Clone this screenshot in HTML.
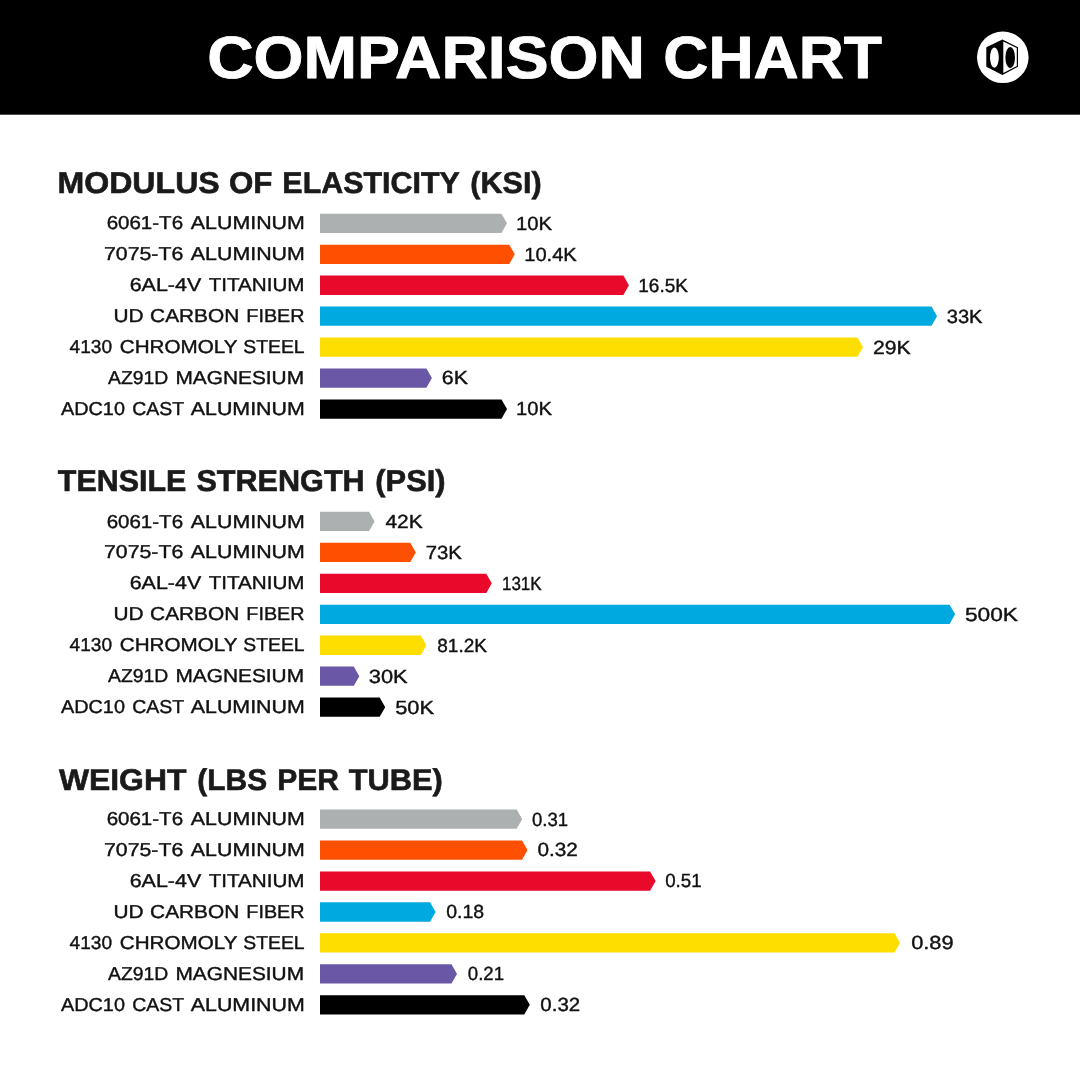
<!DOCTYPE html><html><head><meta charset="utf-8"><style>html,body{margin:0;padding:0;background:#fff;width:1080px;height:1080px;overflow:hidden}svg{display:block;will-change:transform;text-rendering:geometricPrecision}text{font-family:"Liberation Sans",sans-serif}</style></head><body>
<svg width="1080" height="1080" viewBox="0 0 1080 1080">
<rect x="0" y="0" width="1080" height="114.7" fill="#000"/>
<circle cx="1002.8" cy="57.3" r="25.8" fill="#fff"/>
<polygon points="1002.4,39.6 1018,47.2 1018,66.8 1002.4,75 986.3,66.8 986.3,47.2" fill="#000"/>
<polygon points="1003.3,41.6 1016.8,48.1 1016.8,65.9 1003.3,72.9" fill="#fff"/>
<ellipse cx="994.4" cy="57.6" rx="4.4" ry="10.2" fill="#fff"/>
<ellipse cx="1010.2" cy="57.6" rx="4.8" ry="10.6" fill="#000"/>
<polygon points="320.0,213.70 501.50,213.70 507.00,223.35 501.50,233.00 320.0,233.00" fill="#adb0b1"/>
<polygon points="320.0,244.65 509.30,244.65 514.80,254.30 509.30,263.95 320.0,263.95" fill="#fe5000"/>
<polygon points="320.0,275.60 623.40,275.60 628.90,285.25 623.40,294.90 320.0,294.90" fill="#e8092b"/>
<polygon points="320.0,306.55 931.50,306.55 937.00,316.20 931.50,325.85 320.0,325.85" fill="#00a9e0"/>
<polygon points="320.0,337.50 857.50,337.50 863.00,347.15 857.50,356.80 320.0,356.80" fill="#fedd00"/>
<polygon points="320.0,368.45 426.40,368.45 431.90,378.10 426.40,387.75 320.0,387.75" fill="#6a57a6"/>
<polygon points="320.0,399.40 501.50,399.40 507.00,409.05 501.50,418.70 320.0,418.70" fill="#000000"/>
<polygon points="320.0,511.80 369.10,511.80 374.60,521.45 369.10,531.10 320.0,531.10" fill="#adb0b1"/>
<polygon points="320.0,542.75 410.30,542.75 415.80,552.40 410.30,562.05 320.0,562.05" fill="#fe5000"/>
<polygon points="320.0,573.70 486.30,573.70 491.80,583.35 486.30,593.00 320.0,593.00" fill="#e8092b"/>
<polygon points="320.0,604.65 949.60,604.65 955.10,614.30 949.60,623.95 320.0,623.95" fill="#00a9e0"/>
<polygon points="320.0,635.60 420.90,635.60 426.40,645.25 420.90,654.90 320.0,654.90" fill="#fedd00"/>
<polygon points="320.0,666.55 353.80,666.55 359.30,676.20 353.80,685.85 320.0,685.85" fill="#6a57a6"/>
<polygon points="320.0,697.50 379.70,697.50 385.20,707.15 379.70,716.80 320.0,716.80" fill="#000000"/>
<polygon points="320.0,809.50 516.70,809.50 522.20,819.15 516.70,828.80 320.0,828.80" fill="#adb0b1"/>
<polygon points="320.0,840.45 522.00,840.45 527.50,850.10 522.00,859.75 320.0,859.75" fill="#fe5000"/>
<polygon points="320.0,871.40 650.10,871.40 655.60,881.05 650.10,890.70 320.0,890.70" fill="#e8092b"/>
<polygon points="320.0,902.35 430.10,902.35 435.60,912.00 430.10,921.65 320.0,921.65" fill="#00a9e0"/>
<polygon points="320.0,933.30 894.50,933.30 900.00,942.95 894.50,952.60 320.0,952.60" fill="#fedd00"/>
<polygon points="320.0,964.25 451.50,964.25 457.00,973.90 451.50,983.55 320.0,983.55" fill="#6a57a6"/>
<polygon points="320.0,995.20 524.30,995.20 529.80,1004.85 524.30,1014.50 320.0,1014.50" fill="#000000"/>
<text x="207.17" y="77.65" font-size="59.58" font-weight="bold" textLength="437.76" lengthAdjust="spacingAndGlyphs" fill="#fff" stroke="#fff" stroke-width="0.9" stroke-linejoin="round">COMPARISON</text>
<text x="663.32" y="77.65" font-size="59.58" font-weight="bold" textLength="218.70" lengthAdjust="spacingAndGlyphs" fill="#fff" stroke="#fff" stroke-width="0.9" stroke-linejoin="round">CHART</text>
<text x="57.45" y="193.30" font-size="30.14" font-weight="bold" textLength="162.32" lengthAdjust="spacingAndGlyphs" fill="#1a1a1a" stroke="#1a1a1a" stroke-width="0.6" stroke-linejoin="round">MODULUS</text>
<text x="229.03" y="193.30" font-size="30.14" font-weight="bold" textLength="43.48" lengthAdjust="spacingAndGlyphs" fill="#1a1a1a" stroke="#1a1a1a" stroke-width="0.6" stroke-linejoin="round">OF</text>
<text x="282.36" y="193.30" font-size="30.14" font-weight="bold" textLength="177.42" lengthAdjust="spacingAndGlyphs" fill="#1a1a1a" stroke="#1a1a1a" stroke-width="0.6" stroke-linejoin="round">ELASTICITY</text>
<text x="470.33" y="193.30" font-size="30.14" font-weight="bold" textLength="71.33" lengthAdjust="spacingAndGlyphs" fill="#1a1a1a" stroke="#1a1a1a" stroke-width="0.6" stroke-linejoin="round">(KSI)</text>
<text x="106.66" y="229.40" font-size="18.64" font-weight="normal" textLength="76.39" lengthAdjust="spacingAndGlyphs" fill="#111111" stroke="#111111" stroke-width="0.4" stroke-linejoin="round">6061-T6</text>
<text x="190.87" y="229.40" font-size="18.64" font-weight="normal" textLength="113.95" lengthAdjust="spacingAndGlyphs" fill="#111111" stroke="#111111" stroke-width="0.4" stroke-linejoin="round">ALUMINUM</text>
<text x="515.99" y="229.70" font-size="19.00" font-weight="normal" textLength="36.04" lengthAdjust="spacingAndGlyphs" fill="#111111" stroke="#111111" stroke-width="0.4" stroke-linejoin="round">10K</text>
<text x="104.00" y="260.35" font-size="18.64" font-weight="normal" textLength="79.28" lengthAdjust="spacingAndGlyphs" fill="#111111" stroke="#111111" stroke-width="0.4" stroke-linejoin="round">7075-T6</text>
<text x="190.87" y="260.35" font-size="18.64" font-weight="normal" textLength="113.95" lengthAdjust="spacingAndGlyphs" fill="#111111" stroke="#111111" stroke-width="0.4" stroke-linejoin="round">ALUMINUM</text>
<text x="524.23" y="260.65" font-size="19.00" font-weight="normal" textLength="52.58" lengthAdjust="spacingAndGlyphs" fill="#111111" stroke="#111111" stroke-width="0.4" stroke-linejoin="round">10.4K</text>
<text x="129.69" y="291.30" font-size="18.64" font-weight="normal" textLength="71.51" lengthAdjust="spacingAndGlyphs" fill="#111111" stroke="#111111" stroke-width="0.4" stroke-linejoin="round">6AL-4V</text>
<text x="208.66" y="291.30" font-size="18.64" font-weight="normal" textLength="95.91" lengthAdjust="spacingAndGlyphs" fill="#111111" stroke="#111111" stroke-width="0.4" stroke-linejoin="round">TITANIUM</text>
<text x="638.31" y="291.60" font-size="19.00" font-weight="normal" textLength="49.68" lengthAdjust="spacingAndGlyphs" fill="#111111" stroke="#111111" stroke-width="0.4" stroke-linejoin="round">16.5K</text>
<text x="113.41" y="322.25" font-size="18.64" font-weight="normal" textLength="30.08" lengthAdjust="spacingAndGlyphs" fill="#111111" stroke="#111111" stroke-width="0.4" stroke-linejoin="round">UD</text>
<text x="150.09" y="322.25" font-size="18.64" font-weight="normal" textLength="89.20" lengthAdjust="spacingAndGlyphs" fill="#111111" stroke="#111111" stroke-width="0.4" stroke-linejoin="round">CARBON</text>
<text x="246.39" y="322.25" font-size="18.64" font-weight="normal" textLength="58.18" lengthAdjust="spacingAndGlyphs" fill="#111111" stroke="#111111" stroke-width="0.4" stroke-linejoin="round">FIBER</text>
<text x="946.71" y="322.55" font-size="19.00" font-weight="normal" textLength="35.75" lengthAdjust="spacingAndGlyphs" fill="#111111" stroke="#111111" stroke-width="0.4" stroke-linejoin="round">33K</text>
<text x="69.53" y="353.20" font-size="18.64" font-weight="normal" textLength="42.51" lengthAdjust="spacingAndGlyphs" fill="#111111" stroke="#111111" stroke-width="0.4" stroke-linejoin="round">4130</text>
<text x="119.75" y="353.20" font-size="18.64" font-weight="normal" textLength="117.71" lengthAdjust="spacingAndGlyphs" fill="#111111" stroke="#111111" stroke-width="0.4" stroke-linejoin="round">CHROMOLY</text>
<text x="243.29" y="353.20" font-size="18.64" font-weight="normal" textLength="61.34" lengthAdjust="spacingAndGlyphs" fill="#111111" stroke="#111111" stroke-width="0.4" stroke-linejoin="round">STEEL</text>
<text x="872.96" y="353.50" font-size="19.00" font-weight="normal" textLength="37.69" lengthAdjust="spacingAndGlyphs" fill="#111111" stroke="#111111" stroke-width="0.4" stroke-linejoin="round">29K</text>
<text x="108.08" y="384.15" font-size="18.64" font-weight="normal" textLength="60.23" lengthAdjust="spacingAndGlyphs" fill="#111111" stroke="#111111" stroke-width="0.4" stroke-linejoin="round">AZ91D</text>
<text x="175.43" y="384.15" font-size="18.64" font-weight="normal" textLength="128.62" lengthAdjust="spacingAndGlyphs" fill="#111111" stroke="#111111" stroke-width="0.4" stroke-linejoin="round">MAGNESIUM</text>
<text x="441.86" y="384.45" font-size="19.00" font-weight="normal" textLength="26.12" lengthAdjust="spacingAndGlyphs" fill="#111111" stroke="#111111" stroke-width="0.4" stroke-linejoin="round">6K</text>
<text x="61.02" y="415.10" font-size="18.64" font-weight="normal" textLength="63.89" lengthAdjust="spacingAndGlyphs" fill="#111111" stroke="#111111" stroke-width="0.4" stroke-linejoin="round">ADC10</text>
<text x="132.21" y="415.10" font-size="18.64" font-weight="normal" textLength="51.90" lengthAdjust="spacingAndGlyphs" fill="#111111" stroke="#111111" stroke-width="0.4" stroke-linejoin="round">CAST</text>
<text x="190.79" y="415.10" font-size="18.64" font-weight="normal" textLength="114.02" lengthAdjust="spacingAndGlyphs" fill="#111111" stroke="#111111" stroke-width="0.4" stroke-linejoin="round">ALUMINUM</text>
<text x="516.00" y="415.40" font-size="19.00" font-weight="normal" textLength="35.96" lengthAdjust="spacingAndGlyphs" fill="#111111" stroke="#111111" stroke-width="0.4" stroke-linejoin="round">10K</text>
<text x="57.81" y="491.30" font-size="30.14" font-weight="bold" textLength="128.59" lengthAdjust="spacingAndGlyphs" fill="#1a1a1a" stroke="#1a1a1a" stroke-width="0.6" stroke-linejoin="round">TENSILE</text>
<text x="196.40" y="491.30" font-size="30.14" font-weight="bold" textLength="168.33" lengthAdjust="spacingAndGlyphs" fill="#1a1a1a" stroke="#1a1a1a" stroke-width="0.6" stroke-linejoin="round">STRENGTH</text>
<text x="375.30" y="491.30" font-size="30.14" font-weight="bold" textLength="70.28" lengthAdjust="spacingAndGlyphs" fill="#1a1a1a" stroke="#1a1a1a" stroke-width="0.6" stroke-linejoin="round">(PSI)</text>
<text x="106.66" y="527.50" font-size="18.64" font-weight="normal" textLength="76.39" lengthAdjust="spacingAndGlyphs" fill="#111111" stroke="#111111" stroke-width="0.4" stroke-linejoin="round">6061-T6</text>
<text x="190.87" y="527.50" font-size="18.64" font-weight="normal" textLength="113.95" lengthAdjust="spacingAndGlyphs" fill="#111111" stroke="#111111" stroke-width="0.4" stroke-linejoin="round">ALUMINUM</text>
<text x="385.45" y="527.80" font-size="19.00" font-weight="normal" textLength="37.28" lengthAdjust="spacingAndGlyphs" fill="#111111" stroke="#111111" stroke-width="0.4" stroke-linejoin="round">42K</text>
<text x="104.00" y="558.45" font-size="18.64" font-weight="normal" textLength="79.28" lengthAdjust="spacingAndGlyphs" fill="#111111" stroke="#111111" stroke-width="0.4" stroke-linejoin="round">7075-T6</text>
<text x="190.87" y="558.45" font-size="18.64" font-weight="normal" textLength="113.95" lengthAdjust="spacingAndGlyphs" fill="#111111" stroke="#111111" stroke-width="0.4" stroke-linejoin="round">ALUMINUM</text>
<text x="425.78" y="558.75" font-size="19.00" font-weight="normal" textLength="36.08" lengthAdjust="spacingAndGlyphs" fill="#111111" stroke="#111111" stroke-width="0.4" stroke-linejoin="round">73K</text>
<text x="129.69" y="589.40" font-size="18.64" font-weight="normal" textLength="71.51" lengthAdjust="spacingAndGlyphs" fill="#111111" stroke="#111111" stroke-width="0.4" stroke-linejoin="round">6AL-4V</text>
<text x="208.66" y="589.40" font-size="18.64" font-weight="normal" textLength="95.91" lengthAdjust="spacingAndGlyphs" fill="#111111" stroke="#111111" stroke-width="0.4" stroke-linejoin="round">TITANIUM</text>
<text x="502.00" y="589.70" font-size="19.00" font-weight="normal" textLength="39.63" lengthAdjust="spacingAndGlyphs" fill="#111111" stroke="#111111" stroke-width="0.4" stroke-linejoin="round">131K</text>
<text x="113.41" y="620.35" font-size="18.64" font-weight="normal" textLength="30.08" lengthAdjust="spacingAndGlyphs" fill="#111111" stroke="#111111" stroke-width="0.4" stroke-linejoin="round">UD</text>
<text x="150.09" y="620.35" font-size="18.64" font-weight="normal" textLength="89.20" lengthAdjust="spacingAndGlyphs" fill="#111111" stroke="#111111" stroke-width="0.4" stroke-linejoin="round">CARBON</text>
<text x="246.39" y="620.35" font-size="18.64" font-weight="normal" textLength="58.18" lengthAdjust="spacingAndGlyphs" fill="#111111" stroke="#111111" stroke-width="0.4" stroke-linejoin="round">FIBER</text>
<text x="965.01" y="620.65" font-size="19.00" font-weight="normal" textLength="53.01" lengthAdjust="spacingAndGlyphs" fill="#111111" stroke="#111111" stroke-width="0.4" stroke-linejoin="round">500K</text>
<text x="69.53" y="651.30" font-size="18.64" font-weight="normal" textLength="42.51" lengthAdjust="spacingAndGlyphs" fill="#111111" stroke="#111111" stroke-width="0.4" stroke-linejoin="round">4130</text>
<text x="119.75" y="651.30" font-size="18.64" font-weight="normal" textLength="117.71" lengthAdjust="spacingAndGlyphs" fill="#111111" stroke="#111111" stroke-width="0.4" stroke-linejoin="round">CHROMOLY</text>
<text x="243.29" y="651.30" font-size="18.64" font-weight="normal" textLength="61.34" lengthAdjust="spacingAndGlyphs" fill="#111111" stroke="#111111" stroke-width="0.4" stroke-linejoin="round">STEEL</text>
<text x="437.30" y="651.60" font-size="19.00" font-weight="normal" textLength="49.70" lengthAdjust="spacingAndGlyphs" fill="#111111" stroke="#111111" stroke-width="0.4" stroke-linejoin="round">81.2K</text>
<text x="108.08" y="682.25" font-size="18.64" font-weight="normal" textLength="60.23" lengthAdjust="spacingAndGlyphs" fill="#111111" stroke="#111111" stroke-width="0.4" stroke-linejoin="round">AZ91D</text>
<text x="175.43" y="682.25" font-size="18.64" font-weight="normal" textLength="128.62" lengthAdjust="spacingAndGlyphs" fill="#111111" stroke="#111111" stroke-width="0.4" stroke-linejoin="round">MAGNESIUM</text>
<text x="368.77" y="682.55" font-size="19.00" font-weight="normal" textLength="38.82" lengthAdjust="spacingAndGlyphs" fill="#111111" stroke="#111111" stroke-width="0.4" stroke-linejoin="round">30K</text>
<text x="61.02" y="713.20" font-size="18.64" font-weight="normal" textLength="63.89" lengthAdjust="spacingAndGlyphs" fill="#111111" stroke="#111111" stroke-width="0.4" stroke-linejoin="round">ADC10</text>
<text x="132.21" y="713.20" font-size="18.64" font-weight="normal" textLength="51.90" lengthAdjust="spacingAndGlyphs" fill="#111111" stroke="#111111" stroke-width="0.4" stroke-linejoin="round">CAST</text>
<text x="190.79" y="713.20" font-size="18.64" font-weight="normal" textLength="114.02" lengthAdjust="spacingAndGlyphs" fill="#111111" stroke="#111111" stroke-width="0.4" stroke-linejoin="round">ALUMINUM</text>
<text x="395.21" y="713.50" font-size="19.00" font-weight="normal" textLength="38.81" lengthAdjust="spacingAndGlyphs" fill="#111111" stroke="#111111" stroke-width="0.4" stroke-linejoin="round">50K</text>
<text x="58.94" y="789.50" font-size="29.86" font-weight="bold" textLength="127.46" lengthAdjust="spacingAndGlyphs" fill="#1a1a1a" stroke="#1a1a1a" stroke-width="0.6" stroke-linejoin="round">WEIGHT</text>
<text x="197.38" y="789.50" font-size="29.86" font-weight="bold" textLength="69.77" lengthAdjust="spacingAndGlyphs" fill="#1a1a1a" stroke="#1a1a1a" stroke-width="0.6" stroke-linejoin="round">(LBS</text>
<text x="277.17" y="789.50" font-size="29.86" font-weight="bold" textLength="61.77" lengthAdjust="spacingAndGlyphs" fill="#1a1a1a" stroke="#1a1a1a" stroke-width="0.6" stroke-linejoin="round">PER</text>
<text x="348.65" y="789.50" font-size="29.86" font-weight="bold" textLength="94.10" lengthAdjust="spacingAndGlyphs" fill="#1a1a1a" stroke="#1a1a1a" stroke-width="0.6" stroke-linejoin="round">TUBE)</text>
<text x="106.66" y="825.20" font-size="18.64" font-weight="normal" textLength="76.39" lengthAdjust="spacingAndGlyphs" fill="#111111" stroke="#111111" stroke-width="0.4" stroke-linejoin="round">6061-T6</text>
<text x="190.87" y="825.20" font-size="18.64" font-weight="normal" textLength="113.95" lengthAdjust="spacingAndGlyphs" fill="#111111" stroke="#111111" stroke-width="0.4" stroke-linejoin="round">ALUMINUM</text>
<text x="532.00" y="825.50" font-size="19.00" font-weight="normal" textLength="36.02" lengthAdjust="spacingAndGlyphs" fill="#111111" stroke="#111111" stroke-width="0.4" stroke-linejoin="round">0.31</text>
<text x="104.00" y="856.15" font-size="18.64" font-weight="normal" textLength="79.28" lengthAdjust="spacingAndGlyphs" fill="#111111" stroke="#111111" stroke-width="0.4" stroke-linejoin="round">7075-T6</text>
<text x="190.87" y="856.15" font-size="18.64" font-weight="normal" textLength="113.95" lengthAdjust="spacingAndGlyphs" fill="#111111" stroke="#111111" stroke-width="0.4" stroke-linejoin="round">ALUMINUM</text>
<text x="537.49" y="856.45" font-size="19.00" font-weight="normal" textLength="40.36" lengthAdjust="spacingAndGlyphs" fill="#111111" stroke="#111111" stroke-width="0.4" stroke-linejoin="round">0.32</text>
<text x="129.69" y="887.10" font-size="18.64" font-weight="normal" textLength="71.51" lengthAdjust="spacingAndGlyphs" fill="#111111" stroke="#111111" stroke-width="0.4" stroke-linejoin="round">6AL-4V</text>
<text x="208.66" y="887.10" font-size="18.64" font-weight="normal" textLength="95.91" lengthAdjust="spacingAndGlyphs" fill="#111111" stroke="#111111" stroke-width="0.4" stroke-linejoin="round">TITANIUM</text>
<text x="665.16" y="887.40" font-size="19.00" font-weight="normal" textLength="36.40" lengthAdjust="spacingAndGlyphs" fill="#111111" stroke="#111111" stroke-width="0.4" stroke-linejoin="round">0.51</text>
<text x="113.41" y="918.05" font-size="18.64" font-weight="normal" textLength="30.08" lengthAdjust="spacingAndGlyphs" fill="#111111" stroke="#111111" stroke-width="0.4" stroke-linejoin="round">UD</text>
<text x="150.09" y="918.05" font-size="18.64" font-weight="normal" textLength="89.20" lengthAdjust="spacingAndGlyphs" fill="#111111" stroke="#111111" stroke-width="0.4" stroke-linejoin="round">CARBON</text>
<text x="246.39" y="918.05" font-size="18.64" font-weight="normal" textLength="58.18" lengthAdjust="spacingAndGlyphs" fill="#111111" stroke="#111111" stroke-width="0.4" stroke-linejoin="round">FIBER</text>
<text x="446.20" y="918.35" font-size="19.00" font-weight="normal" textLength="37.92" lengthAdjust="spacingAndGlyphs" fill="#111111" stroke="#111111" stroke-width="0.4" stroke-linejoin="round">0.18</text>
<text x="69.53" y="949.00" font-size="18.64" font-weight="normal" textLength="42.51" lengthAdjust="spacingAndGlyphs" fill="#111111" stroke="#111111" stroke-width="0.4" stroke-linejoin="round">4130</text>
<text x="119.75" y="949.00" font-size="18.64" font-weight="normal" textLength="117.71" lengthAdjust="spacingAndGlyphs" fill="#111111" stroke="#111111" stroke-width="0.4" stroke-linejoin="round">CHROMOLY</text>
<text x="243.29" y="949.00" font-size="18.64" font-weight="normal" textLength="61.34" lengthAdjust="spacingAndGlyphs" fill="#111111" stroke="#111111" stroke-width="0.4" stroke-linejoin="round">STEEL</text>
<text x="911.15" y="949.30" font-size="19.00" font-weight="normal" textLength="42.52" lengthAdjust="spacingAndGlyphs" fill="#111111" stroke="#111111" stroke-width="0.4" stroke-linejoin="round">0.89</text>
<text x="108.08" y="979.95" font-size="18.64" font-weight="normal" textLength="60.23" lengthAdjust="spacingAndGlyphs" fill="#111111" stroke="#111111" stroke-width="0.4" stroke-linejoin="round">AZ91D</text>
<text x="175.43" y="979.95" font-size="18.64" font-weight="normal" textLength="128.62" lengthAdjust="spacingAndGlyphs" fill="#111111" stroke="#111111" stroke-width="0.4" stroke-linejoin="round">MAGNESIUM</text>
<text x="467.79" y="980.25" font-size="19.00" font-weight="normal" textLength="36.30" lengthAdjust="spacingAndGlyphs" fill="#111111" stroke="#111111" stroke-width="0.4" stroke-linejoin="round">0.21</text>
<text x="61.02" y="1010.90" font-size="18.64" font-weight="normal" textLength="63.89" lengthAdjust="spacingAndGlyphs" fill="#111111" stroke="#111111" stroke-width="0.4" stroke-linejoin="round">ADC10</text>
<text x="132.21" y="1010.90" font-size="18.64" font-weight="normal" textLength="51.90" lengthAdjust="spacingAndGlyphs" fill="#111111" stroke="#111111" stroke-width="0.4" stroke-linejoin="round">CAST</text>
<text x="190.79" y="1010.90" font-size="18.64" font-weight="normal" textLength="114.02" lengthAdjust="spacingAndGlyphs" fill="#111111" stroke="#111111" stroke-width="0.4" stroke-linejoin="round">ALUMINUM</text>
<text x="540.32" y="1011.20" font-size="19.00" font-weight="normal" textLength="39.83" lengthAdjust="spacingAndGlyphs" fill="#111111" stroke="#111111" stroke-width="0.4" stroke-linejoin="round">0.32</text>
</svg></body></html>
